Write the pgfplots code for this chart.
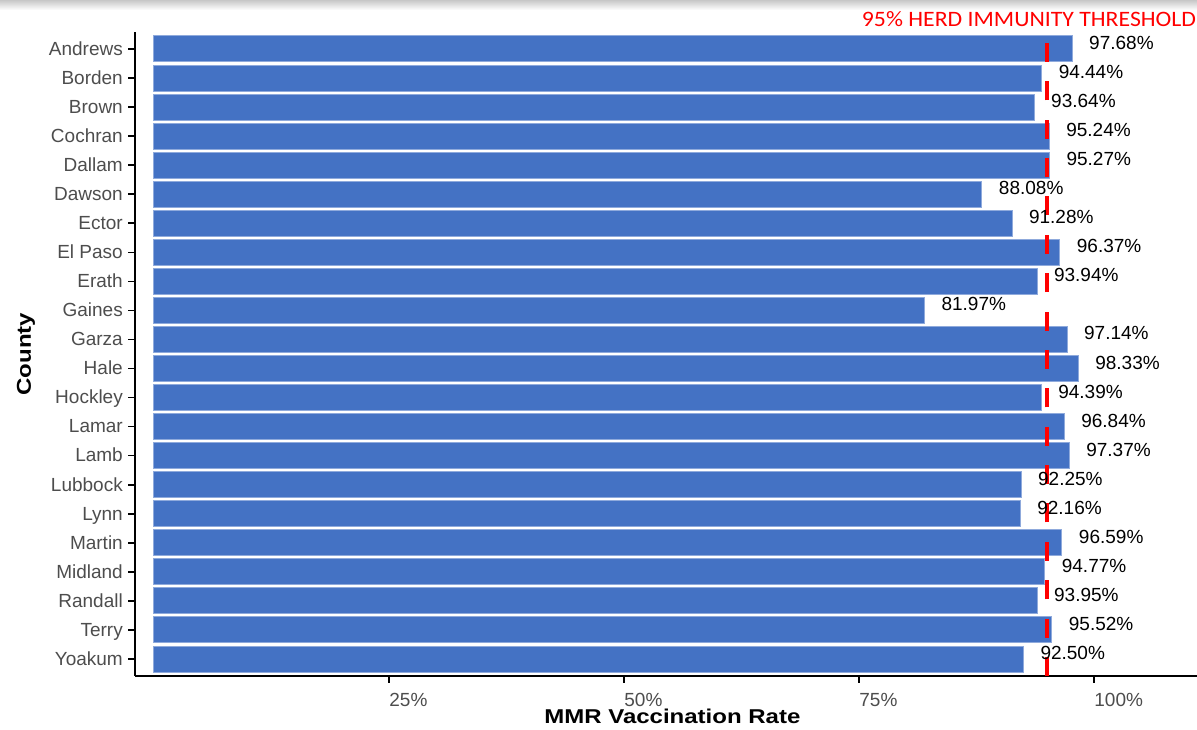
\documentclass[border=0pt]{standalone}
\usepackage{fontspec}
\setmainfont{Liberation Sans}
\newfontfamily\widebold[FakeStretch=1.2]{Liberation Sans}
\newfontfamily\calib[FakeStretch=1.08]{Carlito}
\usepackage{pgfplots}
\usepackage{pgfplotstable}
\pgfplotsset{compat=1.18}
\definecolor{barblue}{HTML}{4472C4}
\definecolor{baredge}{HTML}{8FAADC}
\definecolor{tickgray}{HTML}{4D4D4D}

\pgfplotstableread{
i v lab
0 97.68 97.68
1 94.44 94.44
2 93.64 93.64
3 95.24 95.24
4 95.27 95.27
5 88.08 88.08
6 91.28 91.28
7 96.37 96.37
8 93.94 93.94
9 81.97 81.97
10 97.14 97.14
11 98.33 98.33
12 94.39 94.39
13 96.84 96.84
14 97.37 97.37
15 92.25 92.25
16 92.16 92.16
17 96.59 96.59
18 94.77 94.77
19 93.95 93.95
20 95.52 95.52
21 92.50 92.50
}\datatable

\begin{document}
\begin{tikzpicture}
\begin{axis}[
  at={(0,0)}, anchor=south west,
  scale only axis, width=531pt, height=322pt,
  xmin=-2.0213, xmax=110.957,
  ymin=-0.585, ymax=21.585, y dir=reverse,
  axis x line*=bottom, axis y line*=left,
  axis line style={black, line width=1.1pt, -},
  xtick={25,50,75,100},
  xticklabels={25\%,50\%,75\%,100\%},
  ytick={0,...,21},
  yticklabels={Andrews,Borden,Brown,Cochran,Dallam,Dawson,Ector,El Paso,Erath,Gaines,Garza,Hale,Hockley,Lamar,Lamb,Lubbock,Lynn,Martin,Midland,Randall,Terry,Yoakum},
  tick align=outside, major tick length=3.3pt,
  tick style={black, line width=0.8pt},
  x tick label style={font=\fontsize{9.5}{11}\selectfont, text=tickgray, anchor=base west, inner sep=0pt, yshift=-11.9pt},
  y tick label style={font=\fontsize{9.5}{11}\selectfont, text=tickgray, anchor=base east, inner sep=0pt, xshift=-2.6pt, yshift=-3.15pt},
  xlabel={MMR Vaccination Rate},
  ylabel={County},
  xlabel style={font=\widebold\bfseries\fontsize{10}{12}\selectfont, at={(axis description cs:0.506,-0.0745)}, anchor=base},
  ylabel style={font=\widebold\bfseries\fontsize{10}{12}\selectfont, at={(axis description cs:-0.0980,0.5)}, anchor=base},
  clip=false,
]
\addplot[xbar, bar width=13pt, fill=barblue, draw=baredge, line width=0.5pt,
  point meta=explicit symbolic,
  nodes near coords={\pgfplotspointmeta\%},
  every node near coord/.append style={anchor=base west, inner sep=0pt, xshift=8.25pt, yshift=-0.25pt, font=\fontsize{9.5}{11}\selectfont, text=black}]
  table[x=v, y=i, meta=lab]{\datatable};
\addplot[red, line width=2.3pt, dash pattern=on 9.5pt off 9.69pt, forget plot] coordinates {(95,21.585) (95,-0.585)};
\node[anchor=base east, inner sep=0pt, text=red, font=\calib\fontsize{11}{13}\selectfont] at (axis description cs:0.9995,1.0078) {95\% HERD IMMUNITY THRESHOLD};
\end{axis}
\pgfresetboundingbox
\path (-67.5pt,-26.5pt) rectangle (531pt,338pt);
\shade[top color=black!22, bottom color=white] (-67.5pt,333pt) rectangle (531pt,338pt);
\end{tikzpicture}
\end{document}
